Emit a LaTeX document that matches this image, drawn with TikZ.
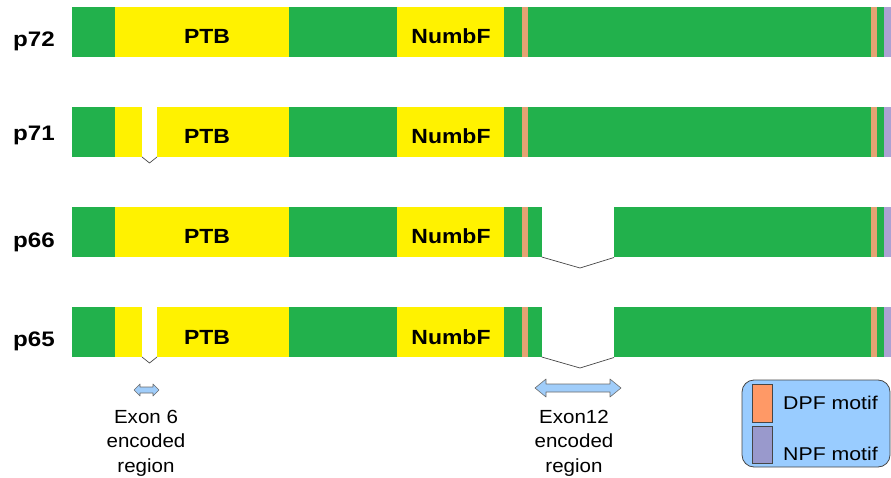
\documentclass[tikz,border=0pt]{standalone}
\usepackage{fontspec}
\setmainfont{Liberation Sans}
\definecolor{gr}{RGB}{34,177,76}
\definecolor{yl}{RGB}{255,242,0}
\definecolor{dpfbar}{RGB}{228,163,115}
\definecolor{npfbar}{RGB}{172,162,212}
\definecolor{legfill}{RGB}{153,204,255}
\definecolor{legdpf}{RGB}{255,153,102}
\definecolor{legnpf}{RGB}{153,153,204}
\definecolor{arrfill}{RGB}{160,205,250}
\definecolor{edge}{RGB}{70,70,70}
\begin{document}
\begin{tikzpicture}[x=1pt,y=-1pt,
  lbl/.style={font=\bfseries\fontsize{21}{24}\selectfont, anchor=base, inner sep=0pt},
  dom/.style={font=\bfseries\fontsize{20.5}{24}\selectfont, anchor=base, inner sep=0pt},
  note/.style={font=\fontsize{19}{24.5}\selectfont, align=center, anchor=north, inner sep=0pt},
  legtxt/.style={font=\fontsize{18.5}{22}\selectfont, anchor=base west, inner sep=0pt},
  chev/.style={draw=edge, line width=0.7pt},
  arr/.style={fill=arrfill, draw=edge!80, line width=0.6pt, line join=round}]
\useasboundingbox (0,0) rectangle (891,478);
\foreach \t/\nm/\bl/\es/\et in {7/p72/47/0/0, 107/p71/141/1/0, 207/p66/248/0/1, 307/p65/346/1/1} {
  \fill[gr] (72,\t) rectangle (891,\t+50);
  \fill[yl] (115,\t) rectangle (289,\t+50);
  \fill[yl] (397,\t) rectangle (504,\t+50);
  \fill[dpfbar] (521.7,\t) rectangle (527.5,\t+50);
  \fill[dpfbar] (870.7,\t) rectangle (877.3,\t+50);
  \fill[npfbar] (884,\t) rectangle (891,\t+50);
  \ifnum\es=1
    \fill[white] (142,\t-1) rectangle (157,\t+51);
    \coordinate (s6a\nm) at (142,\t+50);
    \coordinate (s6b\nm) at (149.5,\t+56);
    \coordinate (s6c\nm) at (157,\t+50);
    \draw[chev] (s6a\nm) -- (s6b\nm) -- (s6c\nm);
  \fi
  \ifnum\et=1
    \fill[white] (541.7,\t-1) rectangle (614,\t+51);
    \coordinate (s12a\nm) at (541.7,\t+50);
    \coordinate (s12b\nm) at (580,\t+61);
    \coordinate (s12c\nm) at (614,\t+50.5);
    \draw[chev] (s12a\nm) -- (s12b\nm) -- (s12c\nm);
  \fi
  \node[lbl] (lab\nm) at (34,\bl) {\scalebox{1.15}[1]{\nm}};
  \node[dom] (ptb\nm) at (207,\t+37) {\scalebox{1.12}[1]{PTB}};
  \node[dom] (numbf\nm) at (451,\t+37) {\scalebox{1.12}[1]{NumbF}};
}
% exon 6 arrow
\draw[arr] (134,390) -- (140,384) -- (140,387) -- (153,387) -- (153,384) -- (159,390)
  -- (153,396) -- (153,393) -- (140,393) -- (140,396) -- cycle;
\node[note] (ex6) at (146,410) {\scalebox{1.08}[1]{Exon 6}\\\scalebox{1.08}[1]{encoded}\\\scalebox{1.08}[1]{region}};
% exon 12 arrow
\draw[arr] (535,388) -- (546,379) -- (546,384) -- (610,384) -- (610,379) -- (621,388)
  -- (610,397) -- (610,392) -- (546,392) -- (546,397) -- cycle;
\node[note] (ex12) at (574,410) {\scalebox{1.08}[1]{Exon12}\\\scalebox{1.08}[1]{encoded}\\\scalebox{1.08}[1]{region}};
% legend
\node[draw=edge, fill=legfill, rounded corners=12pt, line width=0.8pt, minimum width=148pt, minimum height=87pt, inner sep=0pt] (legend) at (816,423.5) {};
\node[draw=edge, fill=legdpf, line width=0.8pt, minimum width=20pt, minimum height=38pt, inner sep=0pt] (kdpf) at (762,403) {};
\node[draw=edge, fill=legnpf, line width=0.8pt, minimum width=20pt, minimum height=37pt, inner sep=0pt] (knpf) at (762,444.5) {};
\node[legtxt] (tdpf) at (783,409) {\scalebox{1.15}[1]{DPF motif}};
\node[legtxt] (tnpf) at (783,460) {\scalebox{1.15}[1]{NPF motif}};
\end{tikzpicture}
\end{document}
